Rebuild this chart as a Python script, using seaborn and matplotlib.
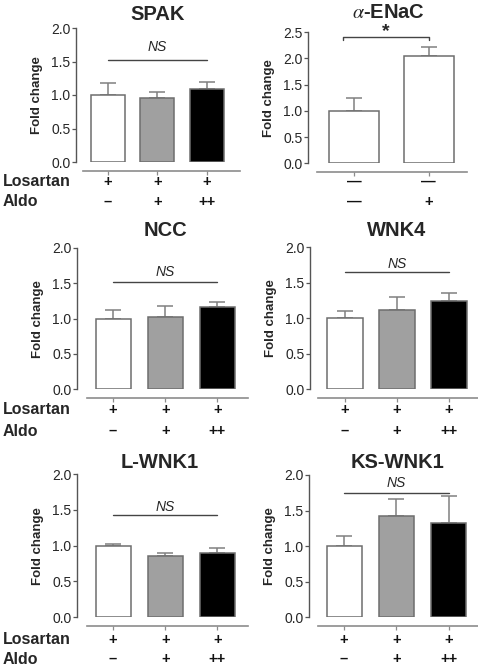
import numpy as np
import matplotlib
matplotlib.use("Agg")
import matplotlib.pyplot as plt
import matplotlib.transforms as mtransforms
import seaborn as sns

sns.set_style("ticks")
plt.rcParams['font.family'] = ['Liberation Sans', 'DejaVu Sans']
plt.rcParams['mathtext.fontset'] = 'stix'

# ---------------- data ----------------
groups3 = ["Los", "Los+Aldo", "Los+Aldo++"]
groups2 = ["Ctrl", "Aldo"]

spak_mean = [1.00, 0.96, 1.09]
spak_sem = [0.18, 0.09, 0.10]

enac_mean = [1.00, 2.04]
enac_sem = [0.24, 0.17]

ncc_mean = [1.00, 1.03, 1.16]
ncc_sem = [0.12, 0.15, 0.08]

wnk4_mean = [1.00, 1.12, 1.25]
wnk4_sem = [0.10, 0.18, 0.10]

lwnk1_mean = [1.00, 0.85, 0.90]
lwnk1_sem = [0.03, 0.05, 0.07]

kswnk1_mean = [1.00, 1.42, 1.32]
kswnk1_sem = [0.14, 0.24, 0.38]

losartan3 = ["+", "+", "+"]
aldo3 = ["\u2013", "+", "++"]
losartan2 = ["\u2014", "\u2014"]
aldo2 = ["\u2014", "+"]

colors3 = ["#ffffff", "#a0a0a0", "#000000"]
colors2 = ["#ffffff", "#ffffff"]

# ---------------- layout (pixels) ----------------
W, H = 478, 666
fig = plt.figure(figsize=(W / 100, H / 100), dpi=100)

panels = [
    dict(title="SPAK", cats=groups3, mean=spak_mean, sem=spak_sem, colors=colors3,
         rows=(losartan3, aldo3), yaxis=76, xl=83, xr=240, top=28, zero=162, xline=171,
         c0=107.7, sp=49.6, bw=34, ymax=2.0, ystep=0.5, title_xy=(158, 15),
         rows_y=(182, 202), sig=("NS", 0, 2, 1.52, 1.72), labels=True),
    dict(title=r"$\alpha$-ENaC", cats=groups2, mean=enac_mean, sem=enac_sem, colors=colors2,
         rows=(losartan2, aldo2), yaxis=308, xl=317, xr=467, top=32, zero=163.3, xline=172,
         c0=354, sp=74.5, bw=50, ymax=2.5, ystep=0.5, title_xy=(388, 13),
         rows_y=(182, 202), sig=("*", -0.15, 1.0, 2.40, 2.50), labels=False),
    dict(title="NCC", cats=groups3, mean=ncc_mean, sem=ncc_sem, colors=colors3,
         rows=(losartan3, aldo3), yaxis=77, xl=87, xr=248, top=248, zero=389.3, xline=398,
         c0=113, sp=52.2, bw=35, ymax=2.0, ystep=0.5, title_xy=(165, 231),
         rows_y=(410, 431), sig=("NS", 0, 2, 1.52, 1.66), labels=True),
    dict(title="WNK4", cats=groups3, mean=wnk4_mean, sem=wnk4_sem, colors=colors3,
         rows=(losartan3, aldo3), yaxis=310, xl=318, xr=478, top=247.3, zero=389.3, xline=398,
         c0=344.5, sp=52.3, bw=36, ymax=2.0, ystep=0.5, title_xy=(397, 231),
         rows_y=(410, 431), sig=("NS", 0, 2, 1.65, 1.77), labels=False),
    dict(title="L-WNK1", cats=groups3, mean=lwnk1_mean, sem=lwnk1_sem, colors=colors3,
         rows=(losartan3, aldo3), yaxis=77, xl=87, xr=248, top=474, zero=617.3, xline=626,
         c0=113, sp=52.2, bw=35, ymax=2.0, ystep=0.5, title_xy=(160, 463),
         rows_y=(640, 659), sig=("NS", 0, 2, 1.43, 1.54), labels=True),
    dict(title="KS-WNK1", cats=groups3, mean=kswnk1_mean, sem=kswnk1_sem, colors=colors3,
         rows=(losartan3, aldo3), yaxis=309, xl=318, xr=478, top=475, zero=617.3, xline=626,
         c0=344, sp=52.3, bw=35, ymax=2.0, ystep=0.5, title_xy=(397, 463),
         rows_y=(640, 659), sig=("NS", 0, 2, 1.75, 1.89), labels=False),
]

EDGE = "#6e6e6e"
ERR = "#808080"
AXC = "#8c8c8c"

for p in panels:
    ax = fig.add_axes([p["xl"] / W, 1 - p["zero"] / H,
                       (p["xr"] - p["xl"]) / W, (p["zero"] - p["top"]) / H])
    n = len(p["cats"])
    sns.barplot(x=p["cats"], y=p["mean"], hue=p["cats"], palette=p["colors"],
                legend=False, width=p["bw"] / p["sp"], edgecolor=EDGE, linewidth=1.1,
                errorbar=None, ax=ax, zorder=3)
    pos = np.arange(n)
    ax.errorbar(pos, p["mean"], yerr=[np.zeros(n), p["sem"]], fmt="none",
                ecolor=ERR, elinewidth=1.1, capsize=6, capthick=1.1, zorder=2)
    ax.set_xlim((p["xl"] - p["c0"]) / p["sp"], (p["xr"] - p["c0"]) / p["sp"])
    ax.set_ylim(0, p["ymax"])
    yt = np.arange(0, p["ymax"] + 1e-6, p["ystep"])
    ax.set_yticks(yt)
    ax.set_yticklabels([f"{v:.1f}" for v in yt],
                       fontsize=7.5, fontweight="bold", color="#222222")
    ax.set_xticks(pos)
    ax.set_xticklabels([])
    for s in ["top", "right"]:
        ax.spines[s].set_visible(False)
    ax.spines["left"].set_position(("outward", (p["xl"] - p["yaxis"]) * 0.72))
    ax.spines["left"].set_bounds(0, p["ymax"])
    ax.spines["bottom"].set_position(("outward", (p["xline"] - p["zero"]) * 0.72))
    ax.spines["left"].set_color("#555555")
    ax.spines["bottom"].set_color(AXC)
    ax.spines["left"].set_linewidth(1.0)
    ax.spines["bottom"].set_linewidth(1.2)
    ax.tick_params(axis="y", length=3, width=0.9, color="#555555", pad=1)
    ax.tick_params(axis="x", length=3, width=0.9, color=AXC)
    ax.set_xlabel("")
    ax.set_ylabel("Fold change", fontsize=9.5, fontweight="bold", labelpad=6)
    ax.patch.set_alpha(0)

    # title
    fig.text(p["title_xy"][0] / W, 1 - p["title_xy"][1] / H, p["title"],
             fontsize=14.5, fontweight="bold", ha="center", va="center")

    # significance
    lab, x1, x2, yl, ytx = p["sig"]
    if lab == "*":
        ax.plot([x1, x1, x2, x2], [yl - 0.06, yl, yl, yl - 0.06], color="#444444",
                lw=1.0, clip_on=False)
        ax.text((x1 + x2) / 2, ytx, lab, fontsize=14, fontweight="bold",
                ha="center", va="center", clip_on=False)
    else:
        ax.plot([x1, x2], [yl, yl], color="#444444", lw=1.0, clip_on=False)
        ax.text((x1 + x2) / 2, ytx, lab, fontsize=10, style="italic",
                ha="center", va="center", clip_on=False)

    # treatment rows
    tr = mtransforms.blended_transform_factory(ax.transData, fig.transFigure)
    for row, ypx in zip(p["rows"], p["rows_y"]):
        for i, s in enumerate(row):
            ax.text(i, 1 - ypx / H, s, transform=tr, fontsize=10.5, fontweight="bold",
                    ha="center", va="center", color="#111111")
    if p["labels"]:
        fig.text(3 / W, 1 - p["rows_y"][0] / H, "Losartan", fontsize=11.5,
                 fontweight="bold", ha="left", va="center")
        fig.text(3 / W, 1 - p["rows_y"][1] / H, "Aldo", fontsize=11.5,
                 fontweight="bold", ha="left", va="center")

fig.savefig("out.png", dpi=100)
